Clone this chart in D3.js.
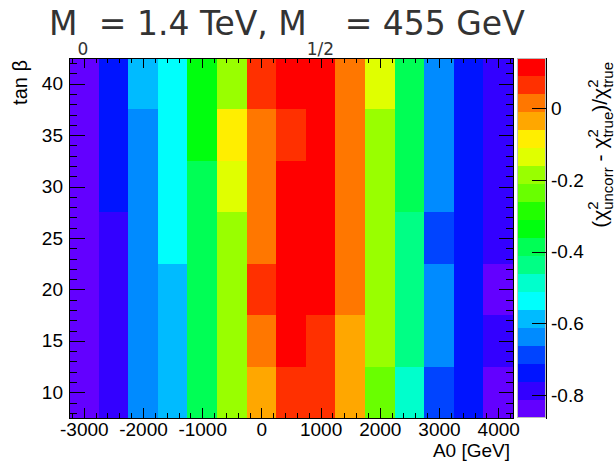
<!DOCTYPE html>
<html>
<head>
<meta charset="utf-8">
<script src="https://cdn.jsdelivr.net/npm/d3@7"></script>
<style>
  html, body { margin: 0; padding: 0; background: #fff; }
  svg { display: block; }
</style>
</head>
<body>
<svg id="chart" width="615" height="465"></svg>
<script>
// A0 bin centres (GeV) and tan(beta) bin centres
const a0Centers = [-3000, -2500, -2000, -1500, -1000, -500, 0, 500, 1000, 1500, 2000, 2500, 3000, 3500, 4000];
const tanBetaCenters = [10, 15, 20, 25, 30, 35, 40];

// (chi2_uncorr - chi2_true) / chi2_true, one row per tan(beta), one entry per A0 bin
const tb10 = [-0.864, -0.790, -0.640, -0.590, -0.390, -0.190, -0.035, 0.060, 0.070, -0.030, -0.235, -0.490, -0.690, -0.740, -0.840];
const tb15 = [-0.845, -0.785, -0.635, -0.585, -0.385, -0.185, 0.020, 0.110, 0.065, -0.040, -0.180, -0.440, -0.640, -0.735, -0.800];
const tb20 = [-0.840, -0.790, -0.640, -0.590, -0.390, -0.190, 0.060, 0.120, 0.115, 0.010, -0.185, -0.435, -0.635, -0.740, -0.835];
const tb25 = [-0.835, -0.785, -0.640, -0.540, -0.385, -0.190, 0.015, 0.120, 0.125, 0.020, -0.190, -0.440, -0.690, -0.735, -0.790];
const tb30 = [-0.835, -0.740, -0.635, -0.535, -0.385, -0.135, 0.010, 0.125, 0.130, 0.015, -0.185, -0.390, -0.640, -0.735, -0.790];
const tb35 = [-0.840, -0.740, -0.635, -0.535, -0.335, -0.085, 0.015, 0.065, 0.120, 0.010, -0.190, -0.385, -0.640, -0.740, -0.790];
const tb40 = [-0.840, -0.740, -0.585, -0.540, -0.335, -0.185, 0.070, 0.140, 0.130, 0.020, -0.135, -0.390, -0.635, -0.740, -0.785];

// tick values
const xTicks = [-3000, -2000, -1000, 0, 1000, 2000, 3000, 4000];
const yTicks = [10, 15, 20, 25, 30, 35, 40];
const zTicks = [0, -0.2, -0.4, -0.6, -0.8];

const rows = [tb10, tb15, tb20, tb25, tb30, tb35, tb40];
const cells = [];
rows.forEach((row, j) => row.forEach((v, i) => cells.push({a0: a0Centers[i], tb: tanBetaCenters[j], v})));

const halfX = (a0Centers[1] - a0Centers[0]) / 2;
const halfY = (tanBetaCenters[1] - tanBetaCenters[0]) / 2;

// frame geometry
const L = 69, R = 513, T = 58, B = 418;
const zL = 517, zR = 546;

const svg = d3.select("#chart");

const x = d3.scaleLinear()
  .domain([a0Centers[0] - halfX, a0Centers[a0Centers.length - 1] + halfX])
  .range([L, R]);
const y = d3.scaleLinear()
  .domain([tanBetaCenters[0] - halfY, tanBetaCenters[tanBetaCenters.length - 1] + halfY])
  .range([B, T]);

// rainbow palette: 50 hues from violet to red, sampled into 20 contour levels
const nPal = 50, nCont = 20;
const palette = d3.range(nPal).map(i => d3.hsl(280 - (i + 1) * 280 / nPal, 1, 0.5).formatHex());
const contColors = d3.range(nCont).map(k => palette[Math.floor((k + 0.99) * nPal / nCont)]);

const zExtent = d3.extent(cells, d => d.v);
const color = d3.scaleQuantize().domain(zExtent).range(contColors);
const z = d3.scaleLinear().domain(zExtent).range([B, T]);

// cells
svg.append("g")
  .selectAll("rect")
  .data(cells)
  .join("rect")
  .attr("x", d => x(d.a0 - halfX))
  .attr("y", d => y(d.tb + halfY))
  .attr("width", d => x(d.a0 + halfX) - x(d.a0 - halfX))
  .attr("height", d => y(d.tb - halfY) - y(d.tb + halfY))
  .attr("fill", d => color(d.v))
  .attr("shape-rendering", "crispEdges");

// frame
svg.append("rect")
  .attr("x", L + 0.5).attr("y", T + 0.5)
  .attr("width", R - L).attr("height", B - T)
  .attr("fill", "none").attr("stroke", "#000").attr("stroke-width", 1);

const fontAxis = "Liberation Sans, Arial, Helvetica, sans-serif";

function styleAxis(g, showLabels) {
  g.select(".domain").remove();
  g.selectAll(".tick line").attr("stroke", "#000").attr("shape-rendering", "crispEdges");
  g.selectAll(".tick text")
    .attr("fill", "#000")
    .attr("font-family", fontAxis)
    .attr("font-size", 19);
  if (!showLabels) g.selectAll(".tick text").remove();
}

const xMinor = d3.range(-3200, 4201, 200).filter(v => !xTicks.includes(v));
const yMinor = d3.range(8, 43, 1).filter(v => !yTicks.includes(v));

// x axis (bottom, labelled) and mirrored ticks on top
svg.append("g").attr("transform", `translate(0,${B})`)
  .call(d3.axisBottom(x).tickValues(xTicks).tickSize(-10).tickPadding(5).tickFormat(d => String(d)))
  .call(g => styleAxis(g, true));
svg.append("g").attr("transform", `translate(0,${B})`)
  .call(d3.axisBottom(x).tickValues(xMinor).tickSize(-5).tickFormat(""))
  .call(g => styleAxis(g, false));
svg.append("g").attr("transform", `translate(0,${T})`)
  .call(d3.axisTop(x).tickValues(xTicks).tickSize(-10).tickFormat(""))
  .call(g => styleAxis(g, false));
svg.append("g").attr("transform", `translate(0,${T})`)
  .call(d3.axisTop(x).tickValues(xMinor).tickSize(-5).tickFormat(""))
  .call(g => styleAxis(g, false));

// y axis (left, labelled) and mirrored ticks on the right
svg.append("g").attr("transform", `translate(${L},0)`)
  .call(d3.axisLeft(y).tickValues(yTicks).tickSize(-16).tickPadding(6).tickFormat(d => String(d)))
  .call(g => styleAxis(g, true));
svg.append("g").attr("transform", `translate(${L},0)`)
  .call(d3.axisLeft(y).tickValues(yMinor).tickSize(-8).tickFormat(""))
  .call(g => styleAxis(g, false));
svg.append("g").attr("transform", `translate(${R},0)`)
  .call(d3.axisRight(y).tickValues(yTicks).tickSize(-14).tickFormat(""))
  .call(g => styleAxis(g, false));
svg.append("g").attr("transform", `translate(${R},0)`)
  .call(d3.axisRight(y).tickValues(yMinor).tickSize(-7).tickFormat(""))
  .call(g => styleAxis(g, false));

// colour scale bar
const bandEdges = d3.range(nCont + 1).map(k => zExtent[0] + k * (zExtent[1] - zExtent[0]) / nCont);
svg.append("g")
  .selectAll("rect")
  .data(d3.range(nCont))
  .join("rect")
  .attr("x", zL)
  .attr("width", zR - zL)
  .attr("y", k => z(bandEdges[k + 1]))
  .attr("height", k => z(bandEdges[k]) - z(bandEdges[k + 1]))
  .attr("fill", k => contColors[k])
  .attr("shape-rendering", "crispEdges");
svg.append("rect")
  .attr("x", zL + 0.5).attr("y", T + 0.5)
  .attr("width", zR - zL - 1).attr("height", B - T - 1)
  .attr("fill", "none").attr("stroke", "#bbb").attr("stroke-width", 1);
svg.append("line")
  .attr("x1", zR + 0.5).attr("x2", zR + 0.5).attr("y1", T).attr("y2", B + 1)
  .attr("stroke", "#000");

svg.append("g").attr("transform", `translate(${zR},0)`)
  .call(d3.axisRight(z).tickValues(zTicks).tickSize(-14).tickPadding(5)
    .tickFormat(d => d === 0 ? "0" : d.toFixed(1)))
  .call(g => styleAxis(g, true));

// axis titles
svg.append("text")
  .attr("x", 510).attr("y", 457)
  .attr("text-anchor", "end")
  .attr("font-family", fontAxis).attr("font-size", 19)
  .text("A0 [GeV]");

svg.append("text")
  .attr("transform", `translate(27,${T + 2}) rotate(-90)`)
  .attr("text-anchor", "end")
  .attr("font-family", fontAxis).attr("font-size", 20)
  .text("tan β");

// colour bar title: (chi2_uncorr - chi2_true)/chi2_true
const zt = svg.append("text")
  .attr("transform", `translate(607,${T + 4}) rotate(-90)`)
  .attr("text-anchor", "end")
  .attr("font-family", fontAxis).attr("font-size", 21);
const supShift = 9, subShift = 6, scriptSize = 15, twoW = 0.556 * scriptSize;
function chiTerm(sub) {
  zt.append("tspan").text("χ");
  zt.append("tspan").attr("font-size", scriptSize).attr("dy", -supShift).text("2");
  zt.append("tspan").attr("font-size", scriptSize).attr("dx", -twoW).attr("dy", supShift + subShift).text(sub);
}
zt.append("tspan").text("(");
chiTerm("uncorr");
zt.append("tspan").attr("dy", -subShift).text(" - ");
chiTerm("true");
zt.append("tspan").attr("dy", -subShift).text(")/");
chiTerm("true");

// title
const title = svg.append("text")
  .attr("x", 49).attr("y", 35)
  .attr("font-family", "DejaVu Sans, sans-serif")
  .attr("font-size", 33)
  .attr("fill", "#333");
title.append("tspan").text("M");
title.append("tspan").attr("font-size", 17).attr("dy", 20).text("0");
title.append("tspan").attr("dy", -20).text(" = 1.4 TeV, M");
title.append("tspan").attr("font-size", 17).attr("dy", 20).text("1/2");
title.append("tspan").attr("dy", -20).text(" = 455 GeV");
</script>
</body>
</html>
